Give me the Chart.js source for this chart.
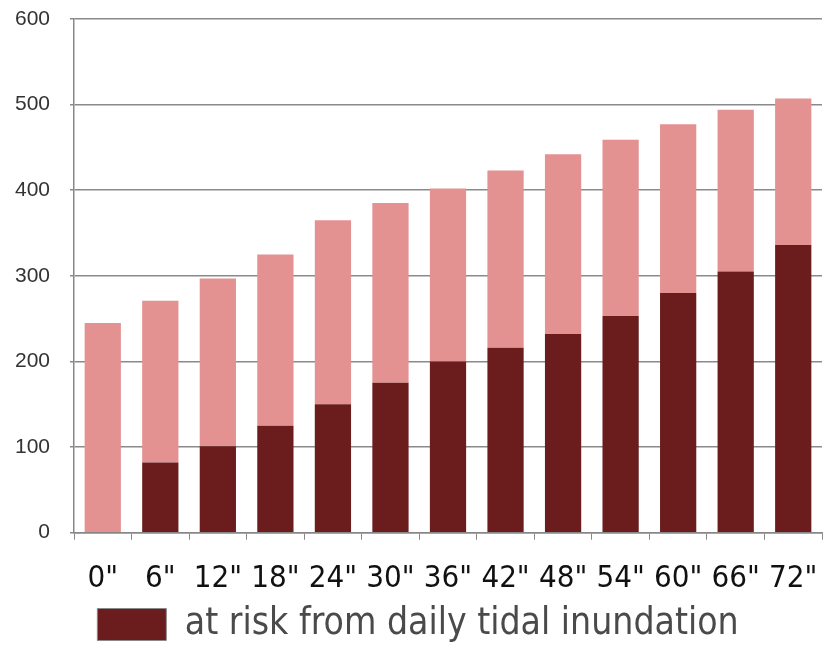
<!DOCTYPE html>
<html>
<head>
<meta charset="utf-8">
<script src="https://cdn.jsdelivr.net/npm/chart.js@4/dist/chart.umd.min.js"></script>
<style>
html,body{margin:0;padding:0;background:#fff;}
#wrap{width:824px;height:649px;position:relative;}
</style>
</head>
<body>
<div id="wrap"><canvas id="c" width="824" height="649"></canvas></div>
<script>
const categories = ['0"', '6"', '12"', '18"', '24"', '30"', '36"', '42"', '48"', '54"', '60"', '66"', '72"'];
const dailyRisk = [0, 82, 101, 125, 150, 175, 200, 216, 232, 253, 280, 305, 336];
const totalRisk = [245, 271, 297, 325, 365, 385, 402, 423, 442, 459, 477, 494, 507];
const otherRisk = totalRisk.map((t, i) => t - dailyRisk[i]);
const yTicks = [0, 100, 200, 300, 400, 500, 600];

const DARK = '#6b1d1d';
const PINK = '#e39191';
const condensed = '"Liberation Sans Narrow", "DejaVu Sans Condensed", sans-serif';

new Chart(document.getElementById('c'), {
  type: 'bar',
  data: {
    labels: categories,
    datasets: [
      { label: 'at risk from daily tidal inundation', data: dailyRisk, backgroundColor: DARK, stack: 's', categoryPercentage: 1, barPercentage: 0.63 },
      { label: 'other', data: otherRisk, backgroundColor: PINK, stack: 's', categoryPercentage: 1, barPercentage: 0.63 }
    ]
  },
  options: {
    responsive: false,
    animation: false,
    layout: { padding: { top: 19, right: 2, left: 14, bottom: -4 } },
    plugins: {
      tooltip: { enabled: false },
      legend: {
        display: true,
        position: 'bottom',
        align: 'center',
        labels: {
          filter: (item) => item.datasetIndex === 0,
          generateLabels: (chart) => Chart.defaults.plugins.legend.labels.generateLabels(chart).map(l => Object.assign(l, { strokeStyle: '#8a8a8a', lineWidth: 1 })),
          boxWidth: 69,
          boxHeight: 32,
          padding: 1,
          color: '#4a4a4a',
          font: { family: condensed, size: 37, lineHeight: 1.1 }
        }
      }
    },
    scales: {
      x: {
        stacked: true,
        offset: true,
        afterFit: (s) => { s.height = 72.3; s.paddingLeft = 0; s.paddingRight = 0; },
        border: { color: '#888', width: 1.5 },
        grid: { drawOnChartArea: false, drawTicks: true, tickLength: 7, offset: true, color: '#888' },
        ticks: { color: '#111', font: { family: condensed, size: 31 }, padding: 21, maxRotation: 0, autoSkip: false }
      },
      y: {
        stacked: true,
        min: 0, max: 600,
        afterBuildTicks: (s) => { s.ticks = yTicks.map(v => ({ value: v })); },
        afterFit: (s) => { s.width = 60; s.paddingTop = 0; s.paddingBottom = 0; },
        border: { color: '#888', width: 1.5 },
        grid: { color: '#8a8a8a', lineWidth: 1.5, tickLength: 4 },
        ticks: { color: '#333', font: { family: '"Liberation Sans", sans-serif', size: 21 }, padding: 20 }
      }
    }
  }
});
</script>
</body>
</html>
